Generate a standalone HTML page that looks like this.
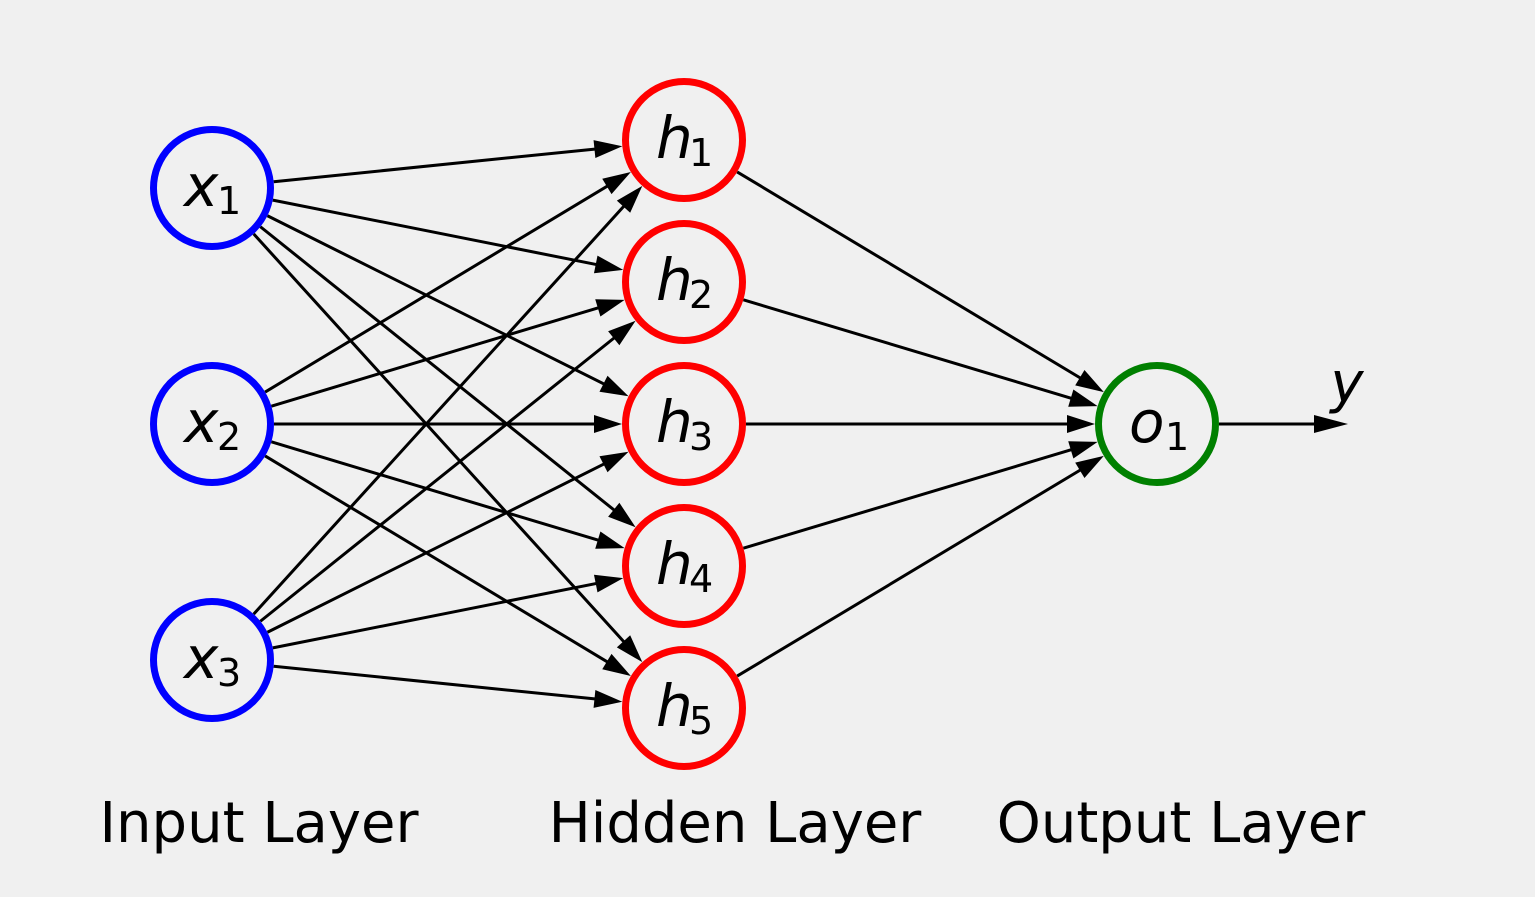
<!DOCTYPE html>
<html><head><meta charset="utf-8"><style>
html,body{margin:0;padding:0;background:#f0f0f0;}
svg{display:block;}
text{font-family:"DejaVu Sans","Liberation Sans",sans-serif;}
</style></head><body>
<svg id="s" width="1535" height="897" viewBox="0 0 1535 897" xmlns="http://www.w3.org/2000/svg">
<rect width="1535" height="897" fill="#f0f0f0"/>
<g id="edges"></g>
<g id="nodes"></g>
<line x1="1219" y1="424" x2="1320" y2="424" stroke="#000" stroke-width="3"/>
<polygon points="1348,424 1314,415 1314,433" fill="#000"/>
<text x="1347" y="402" font-size="56" font-style="italic" text-anchor="middle">y</text>
<text x="259" y="842" font-size="56" text-anchor="middle">Input Layer</text>
<text x="735" y="842" font-size="56" text-anchor="middle">Hidden Layer</text>
<text x="1181" y="842" font-size="56" text-anchor="middle">Output Layer</text>
</svg>
<script>
var NS="http://www.w3.org/2000/svg";
var X=[[212,188],[212,424],[212,660]];
var H=[[684,140],[684,282],[684,424],[684,566],[684,708]];
var O=[[1157,424]];
var E=document.getElementById("edges"),N=document.getElementById("nodes");
function el(t,a,p){var e=document.createElementNS(NS,t);for(var k in a)e.setAttribute(k,a[k]);p.appendChild(e);return e;}
function arrow(a,b){
 var dx=b[0]-a[0],dy=b[1]-a[1],L=Math.hypot(dx,dy),ux=dx/L,uy=dy/L;
 var sx=a[0]+ux*62,sy=a[1]+uy*62,tx=b[0]-ux*62,ty=b[1]-uy*62;
 var bx=tx-ux*28,by=ty-uy*28;
 el("line",{x1:sx,y1:sy,x2:bx+ux*4,y2:by+uy*4,stroke:"#000","stroke-width":3},E);
 el("polygon",{points:tx+","+ty+" "+(bx-uy*9)+","+(by+ux*9)+" "+(bx+uy*9)+","+(by-ux*9),fill:"#000"},E);
}
X.forEach(function(a){H.forEach(function(b){arrow(a,b);});});
H.forEach(function(a){arrow(a,O[0]);});
function node(c,col,v,i){
 el("circle",{cx:c[0],cy:c[1],r:58.5,fill:"none",stroke:col,"stroke-width":7},N);
 var t=el("text",{x:c[0]-28,y:c[1]+18,"font-size":"58","font-style":"italic"},N);
 t.textContent=v;
 var s=el("text",{x:c[0]+(v=="o"?8:5),y:c[1]+26,"font-size":"38"},N);
 s.textContent=i;
}
X.forEach(function(c,i){node(c,"#0000ff","x",i+1);});
H.forEach(function(c,i){node(c,"#ff0000","h",i+1);});
node(O[0],"#008000","o",1);
</script>
</body></html>
